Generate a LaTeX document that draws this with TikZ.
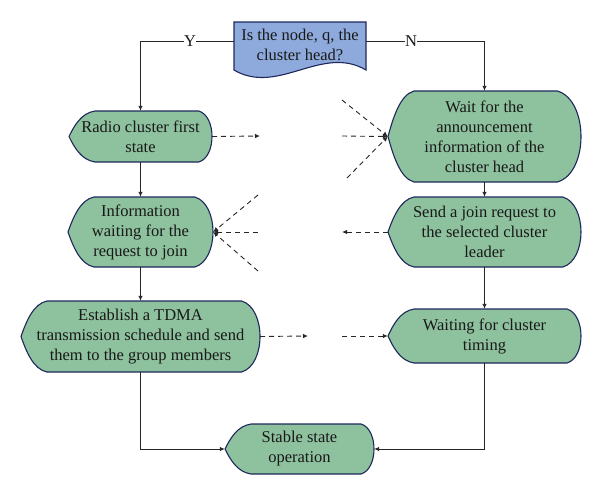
\documentclass[tikz,border=0pt]{standalone}
\usepackage{fontspec}
\setmainfont{Liberation Serif}
\usepackage{tikz}
\usetikzlibrary{arrows.meta}

\definecolor{boxgreen}{RGB}{142,193,158}
\definecolor{boxblue}{RGB}{142,170,220}
\definecolor{boxline}{RGB}{30,40,90}

\tikzset{
  dispbox/.style={draw=boxline, fill=boxgreen, line width=1.1pt},
  docbox/.style={draw=boxline, fill=boxblue, line width=1.1pt},
  boxtext/.style={inner sep=0pt, align=center, text=black!90, font=\fontsize{16.5}{20}\selectfont},
  link/.style={draw=black!85, line width=0.9pt, -{Latex[length=5pt,width=4.5pt]}},
  dlink/.style={link, dash pattern=on 5pt off 4pt}
}

% display box: name, left, right, top, bottom, text
\newcommand{\dispnode}[6]{%
  \draw[dispbox] ({#2+26},#4) -- ({#3-0.26*(#5-#4)},#4)
    .. controls ({#3+0.0867*(#5-#4)},{#4+0.1*(#5-#4)}) and ({#3+0.0867*(#5-#4)},{#5-0.1*(#5-#4)}) .. ({#3-0.26*(#5-#4)},#5)
    -- ({#2+26},#5)
    .. controls ({#2+12},{#5-0.04*(#5-#4)}) and ({#2+5},{(#4+#5)/2+0.2*(#5-#4)}) .. (#2,{(#4+#5)/2})
    .. controls ({#2+5},{(#4+#5)/2-0.2*(#5-#4)}) and ({#2+12},{#4+0.04*(#5-#4)}) .. cycle;
  \node[boxtext, minimum width={#3-#2}, minimum height={#5-#4}] (#1) at ({(#2+#3)/2},{(#4+#5)/2}) {#6};
}

\begin{document}
\begin{tikzpicture}[x=1pt,y=1pt,yscale=-1,xscale=1]
  \useasboundingbox (0,0) rectangle (600,496);

  % Document shape
  \draw[docbox] (234,22) -- (366,22) -- (366,70) .. controls (322,44) and (278,96) .. (234,70) -- cycle;
  \node[boxtext, minimum width=132, minimum height=46] (q) at (300,45) {Is the node, q, the\\cluster head?};

  % Display shapes
  \dispnode{radio}{69}{212}{111}{162}{Radio cluster first\\state}
  \dispnode{wait}{388}{581}{91}{182}{Wait for the\\announcement\\information of the\\cluster head}
  \dispnode{info}{68}{213}{197}{267}{Information\\waiting for the\\request to join}
  \dispnode{send}{388}{581}{197}{267}{Send a join request to\\the selected cluster\\leader}
  \dispnode{estab}{21}{260}{301}{372}{Establish a TDMA\\transmission schedule and send\\them to the group members}
  \dispnode{timing}{388}{581}{309}{363}{Waiting for cluster\\timing}
  \dispnode{stable}{225}{374}{424}{474}{Stable state\\operation}

  % free ends of the dashed lines
  \coordinate (rA) at (260,136);
  \coordinate (wA) at (342,136);
  \coordinate (wU) at (342,100);
  \coordinate (wL) at (347,178);
  \coordinate (iU) at (258,195);
  \coordinate (iM) at (258,232);
  \coordinate (iL) at (258,271);
  \coordinate (sA) at (342,232);
  \coordinate (eA) at (308,336);
  \coordinate (tA) at (342,336);

  % Connectors
  \draw[link] ([yshift=-4pt]q.west) -| node[pos=0.234, fill=white, inner sep=1pt, boxtext] {Y} (radio.north);
  \draw[link] ([yshift=-4pt]q.east) -| node[pos=0.19, fill=white, inner sep=1pt, boxtext] {N} (wait.north);
  \draw[link] (radio) -- (info);
  \draw[link] (info) -- (estab);
  \draw[link] (wait) -- (send);
  \draw[link] (send) -- (timing);
  \draw[link] (estab.south) |- (stable.west);
  \draw[link] (timing.south) |- (stable.east);

  % Dashed connectors
  \draw[dlink] (radio.east) -- (rA);
  \draw[dlink] (wA) -- (wait.west);
  \draw[dlink] (wU) -- (wait.west);
  \draw[dlink] (wL) -- (wait.west);
  \draw[dlink] (iU) -- (info.east);
  \draw[dlink] (iM) -- (info.east);
  \draw[dlink] (iL) -- (info.east);
  \draw[dlink] (send.west) -- (sA);
  \draw[dlink] (estab.east) -- (eA);
  \draw[dlink] (tA) -- (timing.west);
\end{tikzpicture}
\end{document}
